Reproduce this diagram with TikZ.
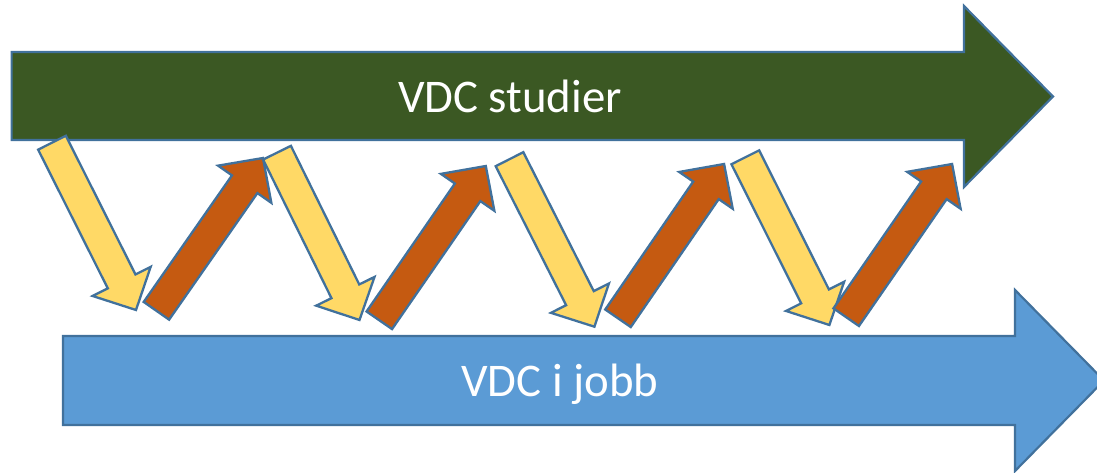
\documentclass[tikz,border=0pt]{standalone}
\usepackage{fontspec}
\setmainfont{Carlito}
\usetikzlibrary{calc}
\definecolor{greenfill}{HTML}{3B5823}
\definecolor{bluefill}{HTML}{5B9BD5}
\definecolor{yellowfill}{HTML}{FFD966}
\definecolor{orangefill}{HTML}{C55A11}
\definecolor{edgeblue}{HTML}{41719C}
\tikzset{
  bigarrow/.style={draw=edgeblue, line width=2.2bp, line join=miter},
  smallarrow/.style={draw=edgeblue, line width=2.3bp, line join=miter},
  label/.style={text=white, font=\fontsize{47}{50}\selectfont, anchor=base, inner sep=0pt}
}
\newcommand{\flowarrow}[3]{%
  \path[smallarrow, fill=#3]
    ($(#1)!15.5bp!90:(#2)$) --
    ($($(#2)!32bp!(#1)$)!15.5bp!-90:(#1)$) --
    ($($(#2)!32bp!(#1)$)!32.5bp!-90:(#1)$) --
    (#2) --
    ($($(#2)!32bp!(#1)$)!32.5bp!90:(#1)$) --
    ($($(#2)!32bp!(#1)$)!15.5bp!90:(#1)$) --
    ($(#1)!15.5bp!-90:(#2)$) -- cycle;}
\begin{document}
\begin{tikzpicture}[x=1bp,y=-1bp]
\useasboundingbox (0,0) rectangle (1097,473);
\clip (0,0) rectangle (1097,473);
% big arrows
\path[bigarrow, fill=greenfill]
  (11.6,52) -- (964,52) -- (964,6) -- (1053,96.5) -- (964,187) -- (964,140) -- (11.6,140) -- cycle;
\node[label] (studier) at (510,113) {VDC studier};
\path[bigarrow, fill=bluefill]
  (63,336) -- (1015,336) -- (1015,290) -- (1104,380.5) -- (1015,471) -- (1015,425) -- (63,425) -- cycle;
\node[label] (jobb) at (560,397) {VDC i jobb};
% small arrows
\coordinate (y1t) at (52,142.7);   \coordinate (y1h) at (136,310);
\coordinate (o1t) at (156.4,310.8); \coordinate (o1h) at (263,158);
\coordinate (y2t) at (277,152.7);  \coordinate (y2h) at (359.5,320);
\coordinate (o2t) at (379.3,320.3); \coordinate (o2h) at (485.8,166);
\coordinate (y3t) at (509.5,159.2); \coordinate (y3h) at (594.4,326.7);
\coordinate (o3t) at (618,318.3);  \coordinate (o3h) at (724.1,164);
\coordinate (y4t) at (745.3,157.3); \coordinate (y4h) at (829.4,325);
\coordinate (o4t) at (846.2,317.2); \coordinate (o4h) at (952.1,164);
\flowarrow{y1t}{y1h}{yellowfill}
\flowarrow{o1t}{o1h}{orangefill}
\flowarrow{y2t}{y2h}{yellowfill}
\flowarrow{o2t}{o2h}{orangefill}
\flowarrow{y3t}{y3h}{yellowfill}
\flowarrow{o3t}{o3h}{orangefill}
\flowarrow{y4t}{y4h}{yellowfill}
\flowarrow{o4t}{o4h}{orangefill}
\end{tikzpicture}
\end{document}
